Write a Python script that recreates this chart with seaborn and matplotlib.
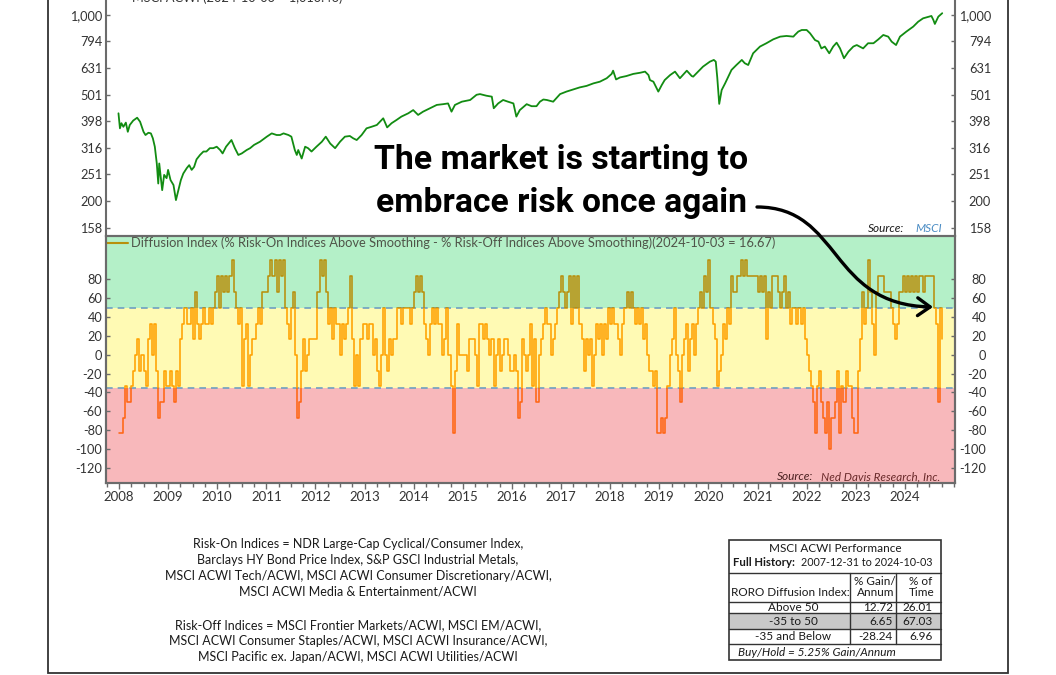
import numpy as np
import pandas as pd
import matplotlib
matplotlib.use("Agg")
import matplotlib.pyplot as plt
import seaborn as sns
from matplotlib.patches import Rectangle, FancyArrowPatch
from matplotlib.path import Path
from matplotlib.lines import Line2D
from matplotlib.ticker import FixedLocator, NullLocator, MultipleLocator

# ---------------- data ----------------
# MSCI ACWI (log scale), time in decimal years
ACWI_T = [2007.99, 2008.02, 2008.05, 2008.09, 2008.14, 2008.18, 2008.22, 2008.29, 2008.37, 2008.43,
          2008.50, 2008.54, 2008.60, 2008.65, 2008.69, 2008.73, 2008.77, 2008.80, 2008.82, 2008.85,
          2008.88, 2008.92, 2008.97, 2009.00, 2009.05, 2009.11, 2009.16, 2009.21, 2009.26, 2009.31,
          2009.38, 2009.43, 2009.48, 2009.53, 2009.58, 2009.65, 2009.72, 2009.78, 2009.85, 2009.92,
          2009.99, 2010.06, 2010.11, 2010.18, 2010.29, 2010.36, 2010.43, 2010.50, 2010.60, 2010.67,
          2010.75, 2010.87, 2011.01, 2011.11, 2011.21, 2011.28, 2011.35, 2011.45, 2011.51, 2011.58,
          2011.62, 2011.65, 2011.72, 2011.79, 2011.85, 2011.92, 2012.02, 2012.13, 2012.21, 2012.30,
          2012.40, 2012.50, 2012.60, 2012.70, 2012.77, 2012.84, 2012.94, 2013.04, 2013.14, 2013.25,
          2013.38, 2013.46, 2013.55, 2013.65, 2013.75, 2013.89, 2013.99, 2014.09, 2014.19, 2014.33,
          2014.47, 2014.60, 2014.70, 2014.77, 2014.84, 2014.98, 2015.15, 2015.28, 2015.35, 2015.48,
          2015.59, 2015.63, 2015.72, 2015.82, 2015.92, 2016.03, 2016.09, 2016.16, 2016.30, 2016.40,
          2016.50, 2016.57, 2016.64, 2016.71, 2016.84, 2016.98, 2017.11, 2017.25, 2017.38, 2017.52,
          2017.66, 2017.79, 2017.93, 2018.03, 2018.06, 2018.12, 2018.20, 2018.33, 2018.47, 2018.61,
          2018.71, 2018.78, 2018.81, 2018.88, 2018.98, 2019.05, 2019.11, 2019.22, 2019.32, 2019.42,
          2019.56, 2019.66, 2019.69, 2019.79, 2019.89, 2020.03, 2020.11, 2020.15, 2020.18, 2020.22,
          2020.27, 2020.34, 2020.47, 2020.57, 2020.68, 2020.74, 2020.81, 2020.91, 2021.05, 2021.18,
          2021.32, 2021.46, 2021.59, 2021.73, 2021.76, 2021.83, 2021.90, 2022.00, 2022.07, 2022.17,
          2022.24, 2022.30, 2022.37, 2022.46, 2022.54, 2022.61, 2022.68, 2022.76, 2022.85, 2022.95,
          2023.02, 2023.08, 2023.15, 2023.25, 2023.36, 2023.46, 2023.56, 2023.66, 2023.73, 2023.82,
          2023.90, 2024.03, 2024.17, 2024.27, 2024.37, 2024.44, 2024.54, 2024.58, 2024.61, 2024.68,
          2024.76]
ACWI_V = [426, 374, 391, 379, 393, 363, 385, 400, 410, 396,
          363, 353, 360, 358, 343, 319, 276, 232, 276, 246,
          219, 250, 243, 261, 239, 229, 201, 219, 239, 253,
          265, 272, 261, 268, 286, 297, 306, 306, 315, 315,
          319, 310, 301, 319, 338, 315, 297, 301, 310, 315,
          324, 333, 348, 358, 353, 353, 358, 353, 348, 310,
          297, 310, 288, 319, 315, 306, 319, 333, 348, 328,
          315, 333, 348, 350, 343, 338, 353, 374, 379, 385,
          408, 377, 391, 402, 414, 426, 438, 420, 432, 445,
          458, 461, 464, 432, 458, 471, 478, 500, 503, 496,
          492, 445, 464, 478, 471, 464, 414, 438, 461, 453,
          453, 471, 480, 478, 471, 503, 514, 524, 533, 540,
          552, 560, 577, 599, 616, 571, 581, 588, 599, 605,
          611, 593, 568, 560, 514, 544, 568, 593, 611, 577,
          616, 588, 585, 611, 638, 666, 676, 666, 581, 462,
          521, 552, 620, 647, 676, 657, 647, 716, 759, 781,
          808, 827, 832, 827, 839, 864, 876, 876, 851, 803,
          792, 747, 759, 716, 759, 785, 747, 686, 726, 759,
          769, 759, 747, 781, 781, 808, 839, 827, 792, 769,
          827, 864, 902, 941, 969, 977, 989, 955, 923, 983,
          1013]
ACWI_TICKS = [158, 200, 251, 316, 398, 501, 631, 794, 1000]
ACWI_TICK_LABELS = ["158", "200", "251", "316", "398", "501", "631", "794", "1,000"]

# RORO diffusion index, semi-monthly readings starting 2008-01
DIFF_START = 2008.0
DIFF_END = 2024.76
DIFF_VALUES = [
    -83, -83, -67, -33, -50, -50, -33, -17, 0, 17, -17, 0, -17, -33, 17, 33, 0, 33, -17, -67, -50, -50, -17, -33,   # 2008
    -33, -17, -33, -50, -17, -33, 17, 33, 50, 33, 33, 50, 17, 67, 33, 17, 33, 50, 33, 33, 50, 33, 50, 67,         # 2009
    83, 50, 83, 67, 83, 67, 83, 100, 67, 50, 33, 50, -33, 17, 33, -33, 0, 17, 17, 33, 50, 33, 67, 67,              # 2010
    67, 83, 100, 83, 100, 67, 100, 83, 100, 50, 33, 17, 50, 67, 0, -67, -50, -17, 17, -17, 0, 17, 17, 17,          # 2011
    17, 67, 100, 83, 100, 67, 33, 50, 17, 50, 33, 33, 0, 33, 17, 33, 50, 83, 17, -33, 0, -33, 17, 33,              # 2012
    33, 17, 33, 33, 0, 17, -17, -33, 0, 50, 0, -17, 17, 0, 17, 17, 50, 50, 33, 50, 50, 50, 33, 50,                 # 2013
    67, 83, 67, 83, 67, 33, 17, 0, 33, 50, 33, 50, 33, 33, 0, 17, 50, 0, -33, -83, -17, 33, 0, 0,                  # 2014
    0, 0, -17, 17, 17, 17, 0, -33, 33, 33, 17, 33, 17, 0, 17, -33, 0, 17, -17, 0, 17, 17, 0, -17,                  # 2015
    -17, 0, -17, -67, -50, 17, 0, -17, 0, 33, -33, 17, -50, 0, 17, 33, 50, 33, 33, 0, 17, 33, 50, 67,              # 2016
    83, 67, 50, 67, 83, 33, 83, 50, 83, 33, 17, -17, 17, 0, 17, -33, 0, 33, 17, 33, 0, 33, 17, 50,                 # 2017
    33, 50, 33, 33, 17, 0, 33, 50, 67, 50, 67, 50, 33, 50, 33, 50, 17, 33, 0, -17, -17, -33, -17, -83,             # 2018
    -83, -67, -83, -67, -33, 0, 17, 50, 0, -17, -50, 0, 17, 33, -17, 17, 33, 0, 33, 50, 67, 50, 83, 67,            # 2019
    100, 50, 33, 17, -33, -17, 0, 33, 17, 50, 33, 83, 67, 67, 83, 83, 100, 83, 100, 83, 83, 83, 83, 83,            # 2020
    67, 83, 67, 83, 17, 67, 50, 83, 83, 83, 67, 50, 67, 83, 50, 67, 33, 50, 50, 33, 50, 33, 50, 17,                # 2021
    0, -17, -33, -50, -83, -33, -17, -50, -67, -83, -50, -100, -67, -67, -50, -17, -83, -33, -50, -17, -33, -33, -67, -83,  # 2022
    -83, -17, 17, 67, 33, 50, 100, 67, 33, 0, 67, 83, 83, 83, 67, 67, 67, 50, 33, 17, 33, 67, 67, 83,             # 2023
    67, 83, 67, 83, 67, 83, 67, 83, 83, 67, 83, 83, 83, 83, 50, 33, -50, 50, 17,                                   # 2024
]
DIFF_LAST = 16.67
DIFF_TICKS = [-120, -100, -80, -60, -40, -20, 0, 20, 40, 60, 80]
UPPER_LEVEL = 50
LOWER_LEVEL = -35
YEARS = list(range(2008, 2025))

TABLE_ROWS = ["Above 50", "-35 to 50", "-35 and Below"]
TABLE_GAIN = ["12.72", "6.65", "-28.24"]
TABLE_TIME = ["26.01", "67.03", "6.96"]

NOTE_LINES = [
    "Risk-On Indices = NDR Large-Cap Cyclical/Consumer Index,",
    "Barclays HY Bond Price Index, S&P GSCI Industrial Metals,",
    "MSCI ACWI Tech/ACWI, MSCI ACWI Consumer Discretionary/ACWI,",
    "MSCI ACWI Media & Entertainment/ACWI",
    "",
    "Risk-Off Indices = MSCI Frontier Markets/ACWI, MSCI EM/ACWI,",
    "MSCI ACWI Consumer Staples/ACWI, MSCI ACWI Insurance/ACWI,",
    "MSCI Pacific ex. Japan/ACWI, MSCI ACWI Utilities/ACWI",
]

# ---------------- style ----------------
GREEN = "#128c12"
OLIVE = "#b8900c"
ORANGE = "#ffa200"
REDORANGE = "#ff6614"
BAND_GREEN = "#b4f0c8"
BAND_YELLOW = "#fffab4"
BAND_RED = "#f8b8bb"
SPINE = "#6b6b6b"
TXT = "#333333"

sns.set_theme(style="white")
plt.rcParams["font.family"] = ["Lato", "DejaVu Sans"]
plt.rcParams["axes.unicode_minus"] = False

W, H = 1056, 675
fig = plt.figure(figsize=(W / 100, H / 100), dpi=100)
fig.patch.set_facecolor("white")
renderer = fig.canvas.get_renderer()


def box(l, t, r, b):
    return [l / W, 1 - b / H, (r - l) / W, (b - t) / H]


def fit(t, target):
    w = t.get_window_extent(renderer=renderer).width
    t.set_fontsize(t.get_fontsize() * target / w)
    return t


XLIM = (2007.73, 2025.02)
ax1 = fig.add_axes(box(105.7, -8, 955, 236))
ax2 = fig.add_axes(box(105.7, 235.7, 955, 483))

# ---------------- upper panel ----------------
acwi = pd.DataFrame({"t": ACWI_T, "v": ACWI_V})
sns.lineplot(data=acwi, x="t", y="v", ax=ax1, color=GREEN, lw=1.3,
             estimator=None, sort=False)
ax1.set_yscale("log")
YLIM1 = (147.3, 1217)
ax1.set_ylim(*YLIM1)
ax1.set_xlim(*XLIM)
ax1.set_xlabel("")
ax1.set_ylabel("")
ax1.set_xticks([])
ax1.yaxis.set_major_locator(FixedLocator(ACWI_TICKS))
ax1.yaxis.set_minor_locator(NullLocator())
ax1.set_yticklabels(ACWI_TICK_LABELS)
ax1.tick_params(axis="y", which="major", direction="in", length=3, width=1,
                color=SPINE, left=True, right=False, labelsize=9.2,
                labelcolor=TXT, pad=2.5)
for s in ["top", "bottom", "right"]:
    ax1.spines[s].set_visible(False)
ax1.spines["left"].set_color(SPINE)
ax1.spines["left"].set_linewidth(1.5)
ax1.set_facecolor("none")

ax1r = ax1.twinx()
ax1r.set_yscale("log")
ax1r.set_ylim(*YLIM1)
ax1r.yaxis.set_major_locator(FixedLocator(ACWI_TICKS))
ax1r.yaxis.set_minor_locator(NullLocator())
ax1r.set_yticklabels(ACWI_TICK_LABELS)
ax1r.tick_params(axis="y", which="major", direction="in", length=3, width=1,
                 color=SPINE, labelsize=9.2, labelcolor=TXT, pad=26)
for lab in ax1r.get_yticklabels():
    lab.set_horizontalalignment("right")
for s in ["top", "bottom", "left"]:
    ax1r.spines[s].set_visible(False)
ax1r.spines["right"].set_color(SPINE)
ax1r.spines["right"].set_linewidth(1.5)
ax1r.grid(False)

# ---------------- lower panel ----------------
YLIM2 = (-136.2, 126.3)
ax2.set_xlim(*XLIM)
ax2.set_ylim(*YLIM2)
ax2.axhspan(UPPER_LEVEL, 300, color=BAND_GREEN, lw=0, zorder=0)
ax2.axhspan(LOWER_LEVEL, UPPER_LEVEL, color=BAND_YELLOW, lw=0, zorder=0)
ax2.axhspan(-300, LOWER_LEVEL, color=BAND_RED, lw=0, zorder=0)
for lvl in (UPPER_LEVEL, LOWER_LEVEL):
    ax2.axhline(lvl, color="#6e9fc2", lw=1.2, ls=(0, (4, 3)), zorder=1.5)

n = len(DIFF_VALUES)
diff = pd.DataFrame({
    "t": list(DIFF_START + np.arange(n) / 24.0) + [DIFF_END],
    "v": DIFF_VALUES + [DIFF_LAST],
})
for lo, hi, col in [(UPPER_LEVEL, 300, OLIVE),
                    (LOWER_LEVEL, UPPER_LEVEL, ORANGE),
                    (-300, LOWER_LEVEL, REDORANGE)]:
    sns.lineplot(data=diff, x="t", y="v", ax=ax2, color=col, lw=1.15,
                 estimator=None, drawstyle="steps-post", zorder=2)
    line = ax2.lines[-1]
    clip = Rectangle((XLIM[0] - 5, lo), 40, hi - lo, transform=ax2.transData)
    line.set_clip_path(clip)

ax2.set_xlabel("")
ax2.set_ylabel("")
ax2.set_xticks(YEARS)
ax2.set_xticklabels([str(y) for y in YEARS])
ax2.xaxis.set_minor_locator(MultipleLocator(0.25))
ax2.tick_params(axis="x", which="major", direction="out", length=4, width=1,
                color=SPINE, bottom=True, labelsize=9.5, labelcolor=TXT, pad=2)
ax2.tick_params(axis="x", which="minor", direction="out", length=3, width=1,
                color=SPINE, bottom=True)
ax2.set_yticks(DIFF_TICKS)
ax2.set_yticklabels([str(v) for v in DIFF_TICKS])
ax2.tick_params(axis="y", which="major", direction="in", length=3, width=1,
                color=SPINE, left=True, right=False, labelsize=9.2,
                labelcolor=TXT, pad=2.5)
for s in ["top", "bottom", "left", "right"]:
    ax2.spines[s].set_color(SPINE)
    ax2.spines[s].set_linewidth(1.5)
ax2.grid(False)

ax2r = ax2.twinx()
ax2r.set_ylim(*YLIM2)
ax2r.set_yticks(DIFF_TICKS)
ax2r.set_yticklabels([str(v) for v in DIFF_TICKS])
ax2r.tick_params(axis="y", which="major", direction="in", length=3, width=1,
                 color=SPINE, labelsize=9.2, labelcolor=TXT, pad=22.5)
for lab in ax2r.get_yticklabels():
    lab.set_horizontalalignment("right")
for s in ["top", "bottom", "left", "right"]:
    ax2r.spines[s].set_color(SPINE)
    ax2r.spines[s].set_linewidth(1.5)
ax2r.grid(False)

leg = ax2.legend(handles=[Line2D([0], [0], color=OLIVE, lw=1.5)],
                 labels=["Diffusion Index (% Risk-On Indices Above Smoothing - "
                         "% Risk-Off Indices Above Smoothing)(2024-10-03 = 16.67)"],
                 loc="upper left", bbox_to_anchor=(0.0015, 0.995), frameon=False,
                 handlelength=1.55, handletextpad=0.25, borderpad=0,
                 borderaxespad=0, fontsize=9.6, labelcolor="#4f5449")
fit(leg.get_texts()[0], 651)

# ---------------- overlay (page furniture) ----------------
axo = fig.add_axes([0, 0, 1, 1], zorder=10)
axo.set_xlim(0, W)
axo.set_ylim(H, 0)
axo.axis("off")

# outer frame
axo.plot([48, 48, 1007.5, 1007.5], [-5, 673.3, 673.3, -5], color="#333333",
         lw=1.3, solid_joinstyle="miter")

# title of the upper panel (cut off by the top edge, as in the reference)
axo.text(131.5, 2.2, "MSCI ACWI (2024-10-03 = 1,013.46)", fontsize=9.2,
         color=TXT, va="baseline", ha="left")

# sources
axo.text(904, 228.5, "Source:", ha="right", va="center", fontsize=8.5,
         style="italic", color="#1a1a1a")
axo.text(915, 228.5, "MSCI", ha="left", va="center", fontsize=8.5,
         style="italic", color="#4a8cc4")
fit(axo.text(813, 476.5, "Source:", ha="right", va="center", fontsize=8.8,
             style="italic", color="#4a2020"), 37)
fit(axo.text(821, 476.5, "Ned Davis Research, Inc.", ha="left", va="center",
             fontsize=8.8, style="italic", color="#6a2a2a"), 119)

# annotation text, fitted to the reference width
ann_family = ["Liberation Sans Narrow", "Roboto", "DejaVu Sans"]
for txt, yc, target in [("The market is starting to", 160, 375),
                        ("embrace risk once again", 203, 370)]:
    fit(axo.text(561, yc, txt, ha="center", va="center", fontsize=24,
                 fontweight="bold", family=ann_family, color="black"), target)

# curved arrow
verts = [(757, 207), (842, 207), (828, 305), (933, 307)]
codes = [Path.MOVETO, Path.CURVE4, Path.CURVE4, Path.CURVE4]
arr = FancyArrowPatch(path=Path(verts, codes),
                      arrowstyle="->,head_length=0.45,head_width=0.32",
                      mutation_scale=20, lw=2.4, color="black",
                      transform=axo.transData)
axo.add_patch(arr)

# notes block: common font size fitted on the widest line
probe = axo.text(0, -100, NOTE_LINES[2], fontsize=9.5)
fit(probe, 389)
note_fs = probe.get_fontsize()
probe.remove()
ys = [544.3, 560.2, 576.1, 592.0, 608.0, 624.8, 640.7, 656.6]
for line_txt, y in zip(NOTE_LINES, ys):
    if line_txt:
        axo.text(358, y, line_txt, ha="center", va="center", fontsize=note_fs,
                 color="#1a1a1a")

# performance table
TL, TR, TT, TB = 729, 941, 540, 660
ROW_Y = [601.7, 613.3, 629.3, 644.3]
axo.add_patch(Rectangle((TL, ROW_Y[1]), TR - TL, ROW_Y[2] - ROW_Y[1],
                        facecolor="#c9c9c9", edgecolor="none"))
axo.add_patch(Rectangle((TL, TT), TR - TL, TB - TT, facecolor="none",
                        edgecolor="#333333", lw=1.2))
for y in [572.7] + ROW_Y:
    axo.plot([TL, TR], [y, y], color="#333333", lw=1.0)
for x in (850, 895.7):
    axo.plot([x, x], [572.7, ROW_Y[-1]], color="#333333", lw=1.0)

K = dict(va="center", color="#1a1a1a")
fit(axo.text(790.8, 592.5, "RORO Diffusion Index:", ha="center", fontsize=8.8, **K), 115)
tbl_fs = axo.texts[-1].get_fontsize() * 1.03
axo.texts[-1].set_fontsize(tbl_fs)
axo.text(835, 548.5, "MSCI ACWI Performance", ha="center", fontsize=tbl_fs, **K)
axo.text(732.7, 562.5, "Full History:", ha="left", fontsize=tbl_fs * 0.97,
         fontweight="bold", **K)
fit(axo.text(801, 562.5, "2007-12-31 to 2024-10-03", ha="left", fontsize=tbl_fs, **K), 132)
axo.text(875, 581.5, "% Gain/", ha="center", fontsize=tbl_fs, **K)
axo.text(875.5, 592.5, "Annum", ha="center", fontsize=tbl_fs, **K)
axo.text(920.5, 581.5, "% of", ha="center", fontsize=tbl_fs, **K)
axo.text(922, 592.5, "Time", ha="center", fontsize=tbl_fs, **K)
row_centers = [607.6, 621.3, 636.8]
for name, g, tm, yc in zip(TABLE_ROWS, TABLE_GAIN, TABLE_TIME, row_centers):
    axo.text(793, yc, name, ha="center", fontsize=tbl_fs, **K)
    axo.text(893, yc, g, ha="right", fontsize=tbl_fs, **K)
    axo.text(932.5, yc, tm, ha="right", fontsize=tbl_fs, **K)
axo.text(738, 652.3, "Buy/Hold = 5.25% Gain/Annum", ha="left",
         fontsize=tbl_fs, style="italic", **K)

fig.savefig("out.png", dpi=100)
